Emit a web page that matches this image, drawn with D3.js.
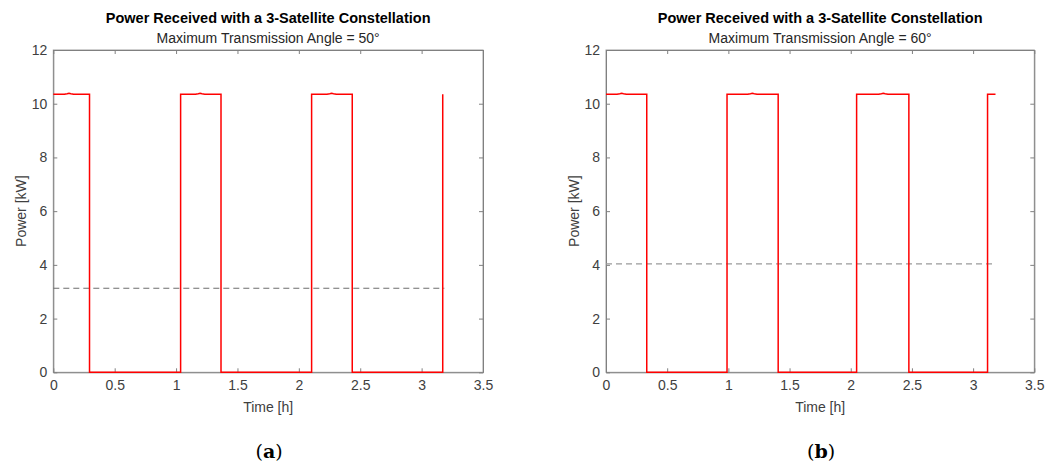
<!DOCTYPE html>
<html><head><meta charset="utf-8">
<script src="https://cdn.jsdelivr.net/npm/d3@7"></script>
<style>body{margin:0;background:#fff;} svg text{font-family:"Liberation Sans",Arial,sans-serif;}</style>
</head><body>
<svg id="c" width="1058" height="466"></svg>
<script>
const xTicks = [0, 0.5, 1, 1.5, 2, 2.5, 3, 3.5];
const yTicks = [0, 2, 4, 6, 8, 10, 12];
const titles = ["Power Received with a 3-Satellite Constellation", "Power Received with a 3-Satellite Constellation"];
const subtitles = ["Maximum Transmission Angle = 50°", "Maximum Transmission Angle = 60°"];
const panelLabels = ["a", "b"];

// Panel (a): time [h] and power [kW]
const timeA  = [0, 0.09, 0.113, 0.128, 0.143, 0.166, 0.295, 0.295, 1.037, 1.037, 1.158, 1.181, 1.196, 1.211, 1.234, 1.366, 1.366, 2.104, 2.104, 2.229, 2.252, 2.267, 2.282, 2.305, 2.435, 2.435, 3.172, 3.172];
const powerA = [10.35, 10.35, 10.37, 10.39, 10.37, 10.35, 10.35, 0, 0, 10.35, 10.35, 10.37, 10.39, 10.37, 10.35, 10.35, 0, 0, 10.35, 10.35, 10.37, 10.39, 10.37, 10.35, 10.35, 0, 0, 10.35];
const meanA = 3.13;

// Panel (b)
const timeB  = [0, 0.09, 0.113, 0.128, 0.143, 0.166, 0.333, 0.333, 0.989, 0.989, 1.158, 1.181, 1.196, 1.211, 1.234, 1.407, 1.407, 2.048, 2.048, 2.228, 2.251, 2.266, 2.281, 2.304, 2.475, 2.475, 3.118, 3.118, 3.183];
const powerB = [10.35, 10.35, 10.37, 10.39, 10.37, 10.35, 10.35, 0, 0, 10.35, 10.35, 10.37, 10.39, 10.37, 10.35, 10.35, 0, 0, 10.35, 10.35, 10.37, 10.39, 10.37, 10.35, 10.35, 0, 0, 10.35, 10.35];
const meanB = 4.04;
const meanEnd = 3.185;

const svg = d3.select("#c");
const panels = [
  {x0: 53.3, x1: 483, t: timeA, p: powerA, mean: meanA, dashColor: "#6e6e6e"},
  {x0: 606, x1: 1034.3, t: timeB, p: powerB, mean: meanB, dashColor: "#9a9a9a"}
];
const yTop = 50, yBot = 372.3;

panels.forEach((P, i) => {
  const x = d3.scaleLinear().domain([0, 3.5]).range([P.x0, P.x1]);
  const y = d3.scaleLinear().domain([0, 12]).range([yBot, yTop]);
  const g = svg.append("g");

  // box
  g.append("rect").attr("x", P.x0).attr("y", yTop).attr("width", P.x1 - P.x0).attr("height", yBot - yTop)
    .attr("fill", "#fff").attr("stroke", "#a0a0a0").attr("stroke-width", 1);

  // axes
  const axB = g.append("g").attr("transform", `translate(0,${yBot})`)
    .call(d3.axisBottom(x).tickValues(xTicks).tickFormat(d3.format("")).tickSizeInner(-4).tickSizeOuter(0).tickPadding(8));
  const axT = g.append("g").attr("transform", `translate(0,${yTop})`)
    .call(d3.axisTop(x).tickValues(xTicks).tickFormat("").tickSizeInner(-4).tickSizeOuter(0));
  const axL = g.append("g").attr("transform", `translate(${P.x0},0)`)
    .call(d3.axisLeft(y).tickValues(yTicks).tickSizeInner(-4).tickSizeOuter(0).tickPadding(6));
  const axR = g.append("g").attr("transform", `translate(${P.x1},0)`)
    .call(d3.axisRight(y).tickValues(yTicks).tickFormat("").tickSizeInner(-4).tickSizeOuter(0));
  [axB, axT, axL, axR].forEach(a => {
    a.select(".domain").attr("stroke", "#808080");
    a.selectAll(".tick line").attr("stroke", "#808080");
    a.selectAll(".tick text").attr("fill", "#404040").style("font-size", "14px").style("font-family", '"Liberation Sans", Arial, sans-serif');
  });
  axB.selectAll(".tick text").attr("dy", "0.71em").attr("y", 8);

  // mean dashed line
  g.append("line").attr("x1", x(0)).attr("x2", x(meanEnd)).attr("y1", y(P.mean)).attr("y2", y(P.mean))
    .attr("stroke", P.dashColor).attr("stroke-width", 1.2).attr("stroke-dasharray", "6,4");

  // power line
  const data = P.t.map((t, k) => [t, P.p[k]]);
  g.append("path").datum(data)
    .attr("d", d3.line().x(d => x(d[0])).y(d => y(d[1])).curve(d3.curveLinear))
    .attr("fill", "none").attr("stroke", "#ff0000").attr("stroke-width", 1.5);

  const cx = (P.x0 + P.x1) / 2;
  // titles
  g.append("text").attr("x", cx).attr("y", 23).attr("text-anchor", "middle")
    .style("font-size", "14.5px").style("font-weight", "bold").attr("fill", "#000").text(titles[i]);
  g.append("text").attr("x", cx).attr("y", 43).attr("text-anchor", "middle")
    .style("font-size", "14px").attr("fill", "#262626").text(subtitles[i]);

  // axis labels
  g.append("text").attr("x", cx).attr("y", 412).attr("text-anchor", "middle")
    .style("font-size", "14px").attr("fill", "#404040").text("Time [h]");
  g.append("text").attr("transform", `translate(${P.x0 - 27},${(yTop + yBot) / 2}) rotate(-90)`)
    .attr("text-anchor", "middle").style("font-size", "14px").attr("fill", "#404040").text("Power [kW]");

  // panel label
  const lbl = g.append("text").attr("x", cx + 1).attr("y", 458).attr("text-anchor", "middle")
    .style("font-family", '"DejaVu Serif", "Liberation Serif", serif').style("font-size", "19px").attr("fill", "#000");
  lbl.append("tspan").text("(");
  lbl.append("tspan").style("font-weight", "bold").text(panelLabels[i]);
  lbl.append("tspan").text(")");
});
</script>
</body></html>
